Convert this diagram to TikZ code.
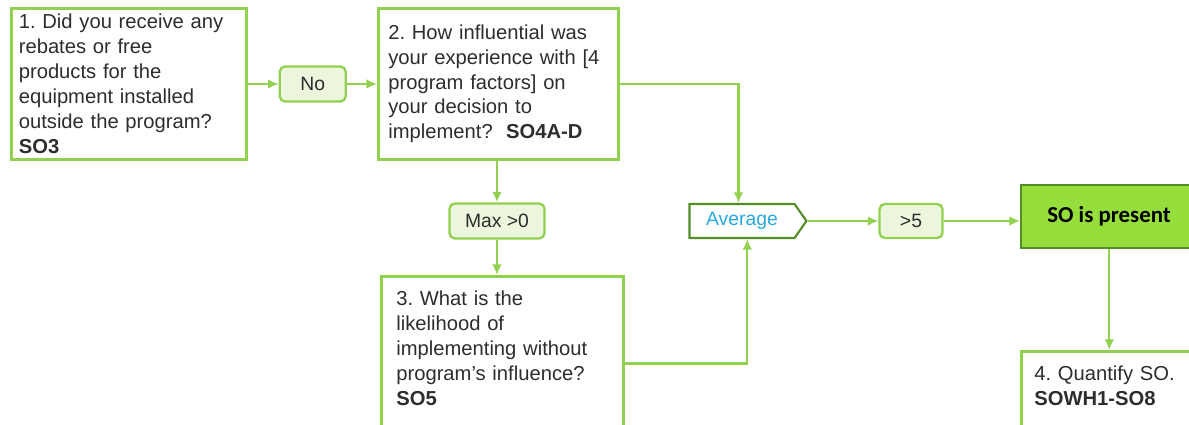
\documentclass[tikz,border=0pt]{standalone}
\usepackage{fontspec}
\setmainfont{Liberation Sans}
\newfontfamily\calfont{Carlito}
\frenchspacing
\usetikzlibrary{arrows.meta,shapes.symbols,positioning}
\definecolor{soline}{RGB}{146,208,80}
\definecolor{sodark}{RGB}{84,140,40}
\definecolor{sofill}{RGB}{236,246,220}
\definecolor{sobright}{RGB}{150,222,60}
\definecolor{sotext}{RGB}{45,45,45}
\definecolor{soblue}{RGB}{40,170,225}
\tikzset{
  q_box/.style = {draw=soline, line width=1.5pt, fill=white, anchor=north west,
    align=left, text=sotext, inner xsep=0.2cm,
    font=\fontsize{11.5}{14.2}\selectfont},% question box
  tag_box/.style = {draw=soline, line width=1.3pt, rounded corners=3pt,
    fill=sofill, text=sotext, minimum height=0.7cm,
    font=\fontsize{11}{13}\selectfont},% answer tag
  avg_box/.style = {shape=signal, signal to=east, signal pointer angle=110,
    draw=sodark, line width=1.2pt, fill=white, text=soblue,
    minimum width=2.34cm, minimum height=0.68cm,
    font=\fontsize{11}{13}\selectfont},% average
  res_box/.style = {draw=sodark, line width=1.2pt, fill=sobright, anchor=north west,
    text=black, font=\calfont\bfseries\fontsize{13}{15}\selectfont},% result
  link/.style = {draw=soline, line width=1.3pt, -{Latex[length=6pt,width=5.5pt]}}
}

\begin{document}
\begin{tikzpicture}[x=0.02cm, y=-0.02cm]
    \clip (0,0) rectangle (1189,425);
    \fill[white] (0,0) rectangle (1189,425);
    \node [q_box, minimum width=4.7cm, minimum height=3.02cm, text width=4.4cm, inner xsep=0.12cm](Q1) at (10,7)
        {1. Did you receive any\\ rebates or free\\ products for the\\ equipment installed\\ outside the program?\\ \textbf{SO3}};
    \node [tag_box, minimum width=1.32cm, right= 0.62cm of Q1](No) {No};
    \node [q_box, minimum width=4.8cm, minimum height=3.02cm, text width=4.4cm](Q2) at (377,7)
        {2. How influential was\\ your experience with [4\\ program factors] on\\ your decision to\\ implement?~~\textbf{SO4A-D}};
    \node [tag_box, minimum width=1.9cm](Max) at (497,221) {Max >0};
    \node [q_box, text width=4.24cm, inner xsep=0.3cm, inner ysep=0.3cm, text depth=2.6cm](Q3) at (380,275)
        {3. What is the\\ likelihood of\\ implementing without\\ program's influence?\\ \textbf{SO5}};
    \node [avg_box](Avg) at (742,221) {Average};
    \node [tag_box, minimum width=1.26cm, minimum height=0.68cm](Gt) at (911,221) {>5};
    \node [res_box, minimum width=3.52cm, minimum height=1.26cm](SOP) at (1020,184) {SO is present};
    \node [q_box, text width=3.0cm, inner xsep=0.26cm, inner ysep=0.3cm, text depth=1.2cm](Q4) at (1020,350)
        {4. Quantify SO.\\ \textbf{SOWH1-SO8}};

    \draw [link] (Q1) -- (No);
    \draw [link] (No) -- (Q2.west |- No);
    \draw [link] (Q2.south -| Max) -- (Max);
    \draw [link] (Max) -- (Max |- Q3.north);
    \draw [link] (Q2.east) -| ([xshift=-2pt]Avg.north);
    \draw [link] (Q3.east) -| ([xshift=3pt]Avg.south);
    \draw [link] (Avg.east) -- (Gt);
    \draw [link] (Gt) -- (SOP.west |- Gt);
    \draw [link] (SOP.south -| Q4.north) -- (Q4.north);
\end{tikzpicture}
\end{document}
